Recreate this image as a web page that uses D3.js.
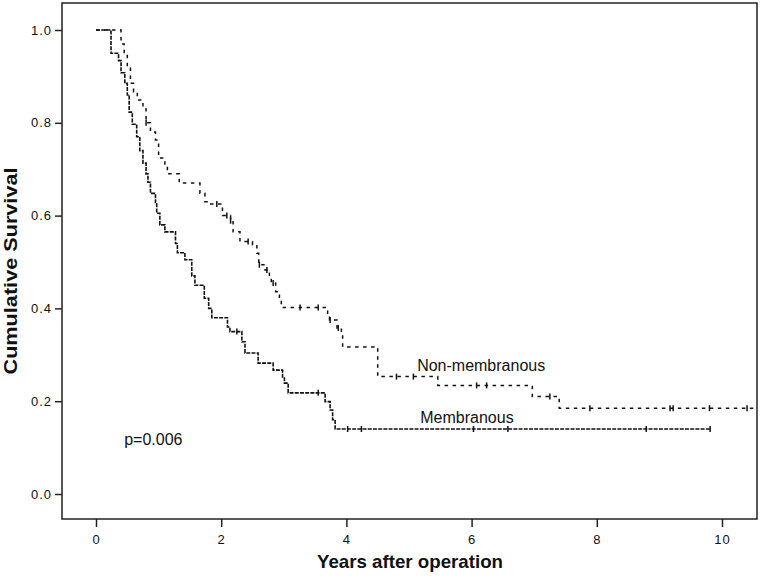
<!DOCTYPE html>
<html><head><meta charset="utf-8">
<script src="https://cdn.jsdelivr.net/npm/d3@7"></script>
<style>
body{margin:0;background:#fff;}
text{font-family:"Liberation Sans",Arial,Helvetica,sans-serif;fill:#111;}
</style></head>
<body><svg id="c" width="761" height="576"></svg>
<script>
// ---- data ----
const xTicks = [0, 2, 4, 6, 8, 10];
const yTicks = [0.0, 0.2, 0.4, 0.6, 0.8, 1.0];
// Membranous: [time, survival after step]
const membSteps = [
  [0,1.0],[0.24,0.95],[0.36,0.934],[0.40,0.908],[0.46,0.885],[0.50,0.86],[0.53,0.823],
  [0.58,0.797],[0.65,0.77],[0.70,0.74],[0.75,0.713],[0.80,0.69],[0.83,0.672],[0.87,0.648],
  [0.95,0.625],[0.97,0.605],[1.02,0.58],[1.10,0.565],[1.27,0.54],[1.30,0.52],[1.42,0.505],
  [1.53,0.47],[1.58,0.45],[1.73,0.422],[1.80,0.40],[1.85,0.38],[2.10,0.36],[2.14,0.35],
  [2.33,0.328],[2.38,0.304],[2.59,0.282],[2.83,0.267],[2.98,0.25],[3.01,0.239],[3.07,0.218],
  [3.66,0.199],[3.74,0.181],[3.78,0.16],[3.82,0.14],[9.81,0.14]
];
const membCensor = [2.25, 3.55, 4.02, 4.24, 6.03, 6.58, 8.79, 9.81];
// Non-membranous
const nonSteps = [
  [0,1.0],[0.40,0.97],[0.45,0.945],[0.50,0.92],[0.55,0.885],[0.60,0.867],[0.66,0.849],
  [0.75,0.83],[0.80,0.80],[0.87,0.78],[0.95,0.763],[1.00,0.724],[1.10,0.709],[1.14,0.69],
  [1.33,0.67],[1.66,0.648],[1.74,0.63],[1.80,0.625],[2.02,0.60],[2.15,0.589],[2.19,0.565],
  [2.30,0.544],[2.50,0.537],[2.57,0.519],[2.60,0.494],[2.70,0.483],[2.77,0.468],[2.80,0.455],
  [2.87,0.436],[2.93,0.418],[2.96,0.402],[3.70,0.386],[3.73,0.375],[3.85,0.358],[3.92,0.343],
  [3.94,0.317],[4.50,0.253],[5.46,0.234],[6.97,0.21],[7.40,0.185],[10.5,0.185]
];
const nonCensor = [0.80, 1.93, 2.09, 2.15, 2.43, 2.61, 2.73, 2.83, 3.26, 3.55, 3.74, 3.87,
  4.80, 5.07, 6.08, 6.24, 7.25, 7.89, 9.17, 9.22, 9.80, 10.40];
const seriesNames = ["Membranous", "Non-membranous"];
const pText = "p=0.006";
const xTitle = "Years after operation";
const yTitle = "Cumulative Survival";

// ---- layout ----
const svg = d3.select("#c");
const L = 62, R = 757, T = 3, B = 519;
const x = d3.scaleLinear().domain([0, 10]).range([96, 722]);
const y = d3.scaleLinear().domain([0, 1]).range([494, 30]);

function survAt(steps, t) {
  let s = steps[0][1];
  for (const [tt, ss] of steps) { if (tt <= t) s = ss; else break; }
  return s;
}

// frame
svg.append("rect").attr("x", L).attr("y", T).attr("width", R - L).attr("height", B - T)
  .attr("fill", "none").attr("stroke", "#222").attr("stroke-width", 1.5);

// axes
const xAxis = svg.append("g").attr("transform", `translate(0,${B})`)
  .call(d3.axisBottom(x).tickValues(xTicks).tickFormat(d3.format("d")).tickSize(8).tickSizeOuter(0));
xAxis.select(".domain").remove();
xAxis.selectAll("line").attr("stroke", "#222").attr("stroke-width", 1.5);
xAxis.selectAll("text").attr("font-size", 13).attr("dy", "1.05em").attr("fill", "#222")
  .style("letter-spacing", "1px").style("font-family", '"Liberation Sans",Arial,sans-serif');

const yAxis = svg.append("g").attr("transform", `translate(${L},0)`)
  .call(d3.axisLeft(y).tickValues(yTicks).tickFormat(d3.format(".1f")).tickSize(7).tickSizeOuter(0));
yAxis.select(".domain").remove();
yAxis.selectAll("line").attr("stroke", "#222").attr("stroke-width", 1.5);
yAxis.selectAll("text").attr("font-size", 13).attr("x", -10).attr("fill", "#222")
  .style("letter-spacing", "1px").style("font-family", '"Liberation Sans",Arial,sans-serif');

// curves
const line = d3.line().x(d => x(d[0])).y(d => y(d[1])).curve(d3.curveStepAfter);
svg.append("path").datum(membSteps).attr("d", line).attr("fill", "none")
  .attr("stroke", "#111").attr("stroke-width", 1.6).attr("stroke-dasharray", "4,1.2");
svg.append("path").datum(nonSteps).attr("d", line).attr("fill", "none")
  .attr("stroke", "#111").attr("stroke-width", 1.5).attr("stroke-dasharray", "3.5,4.5");

// censor marks
function censors(times, steps) {
  svg.append("g").selectAll("line").data(times).join("line")
    .attr("x1", d => x(d)).attr("x2", d => x(d))
    .attr("y1", d => y(survAt(steps, d)) - 3).attr("y2", d => y(survAt(steps, d)) + 3)
    .attr("stroke", "#111").attr("stroke-width", 1.5);
}
censors(membCensor, membSteps);
censors(nonCensor, nonSteps);

// labels
svg.append("text").attr("x", x(5.13)).attr("y", 371).attr("font-size", 16).text(seriesNames[1]);
svg.append("text").attr("x", x(5.18)).attr("y", 423).attr("font-size", 16).text(seriesNames[0]);
svg.append("text").attr("x", x(0.45)).attr("y", 445).attr("font-size", 16).text(pText);

// titles
svg.append("text").attr("x", 410).attr("y", 568).attr("text-anchor", "middle")
  .attr("font-size", 19).attr("font-weight", "bold")
  .attr("textLength", 186).attr("lengthAdjust", "spacingAndGlyphs").text(xTitle);
svg.append("text").attr("transform", "translate(17,271) rotate(-90)").attr("text-anchor", "middle")
  .attr("font-size", 18).attr("font-weight", "bold")
  .attr("textLength", 207).attr("lengthAdjust", "spacingAndGlyphs").text(yTitle);
</script></body></html>
